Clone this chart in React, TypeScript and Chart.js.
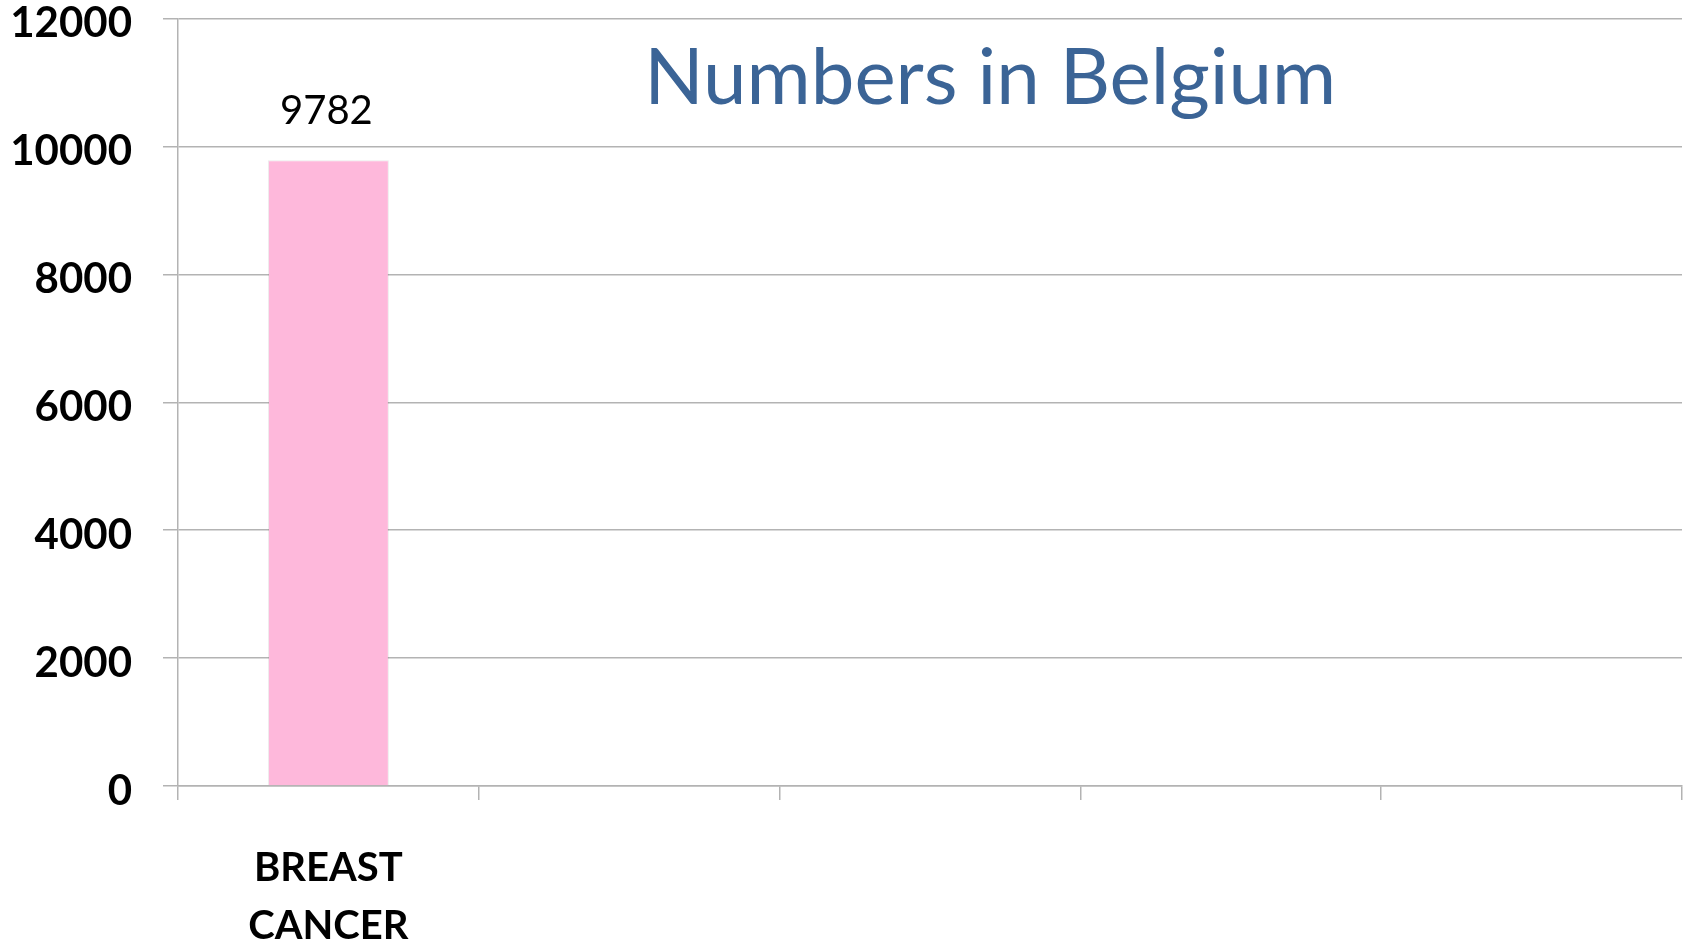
import React, { useEffect, useRef } from 'react';
import { Chart, registerables } from 'chart.js';

Chart.register(...registerables);

const categories: (string | string[])[] = [['BREAST', 'CANCER'], '', '', '', ''];
const values: (number | null)[] = [9782, null, null, null, null];
const yMin = 0;
const yMax = 12000;
const yStep = 2000;
const chartTitle = 'Numbers in Belgium';

const GRID = '#b3b3b3';

const titlePlugin = {
  id: 'insideTitle',
  afterDraw(chart: any) {
    const { ctx, chartArea } = chart;
    ctx.save();
    ctx.font = '400 78px Lato';
    ctx.fillStyle = '#3B6496';
    ctx.textAlign = 'center';
    ctx.textBaseline = 'alphabetic';
    const x = chartArea.left + (chartArea.right - chartArea.left) * 0.54;
    ctx.fillText(chartTitle, x, chartArea.top + 85);
    ctx.restore();
  },
};

const valueLabelPlugin = {
  id: 'valueLabels',
  afterDatasetsDraw(chart: any) {
    const { ctx } = chart;
    const meta = chart.getDatasetMeta(0);
    ctx.save();
    ctx.font = '400 40px Lato';
    ctx.fillStyle = '#000';
    ctx.textAlign = 'center';
    ctx.textBaseline = 'alphabetic';
    meta.data.forEach((bar: any, i: number) => {
      const v = values[i];
      if (v == null) return;
      ctx.fillText(String(v), bar.x - 2, bar.y - 36);
    });
    ctx.restore();
  },
};

export default function App() {
  const ref = useRef<HTMLCanvasElement>(null);
  useEffect(() => {
    if (!ref.current) return;
    const chart = new Chart(ref.current, {
      type: 'bar',
      data: {
        labels: categories as any,
        datasets: [
          {
            data: values,
            backgroundColor: '#FEB8DB',
            borderColor: 'rgba(0,0,0,0.08)',
            borderWidth: 1,
            barPercentage: 0.402,
            categoryPercentage: 1,
          },
        ],
      },
      options: {
        responsive: false,
        animation: false,
        layout: { padding: { top: 18.5, right: 15, bottom: 0, left: 0 } },
        plugins: {
          legend: { display: false },
          tooltip: { enabled: false },
          title: { display: false },
        },
        scales: {
          x: {
            grid: {
              display: true,
              drawOnChartArea: false,
              drawTicks: true,
              tickLength: 14,
              color: GRID,
              lineWidth: 1.5,
              offset: true,
            },
            border: { display: true, color: GRID, width: 1.5 },
            ticks: {
              color: '#000',
              font: { family: 'Lato', weight: 'bold', size: 40, lineHeight: 1.45 },
              padding: 39,
              maxRotation: 0,
              autoSkip: false,
            },
            afterFit: (s: any) => {
              s.height = 945 - 786;
              s.paddingLeft = 0;
              s.paddingRight = 0;
            },
          },
          y: {
            min: yMin,
            max: yMax,
            grid: {
              color: GRID,
              lineWidth: 1.5,
              drawTicks: true,
              tickLength: 15,
            },
            border: { display: true, color: GRID, width: 1.5 },
            ticks: {
              stepSize: yStep,
              color: '#000',
              font: { family: 'Lato', weight: 'bold', size: 42 },
              padding: 31,
              labelOffset: 5,
              callback: (v: any) => String(v),
            },
            afterFit: (s: any) => {
              s.width = 178;
              s.paddingTop = 0;
              s.paddingBottom = 0;
            },
          },
        },
      },
      plugins: [titlePlugin, valueLabelPlugin],
    });
    return () => chart.destroy();
  }, []);
  return (
    <div style={{ position: 'fixed', left: 0, top: 0, width: 1697, height: 945, background: '#fff' }}>
      <canvas ref={ref} width={1697} height={945} style={{ display: 'block' }} />
    </div>
  );
}
